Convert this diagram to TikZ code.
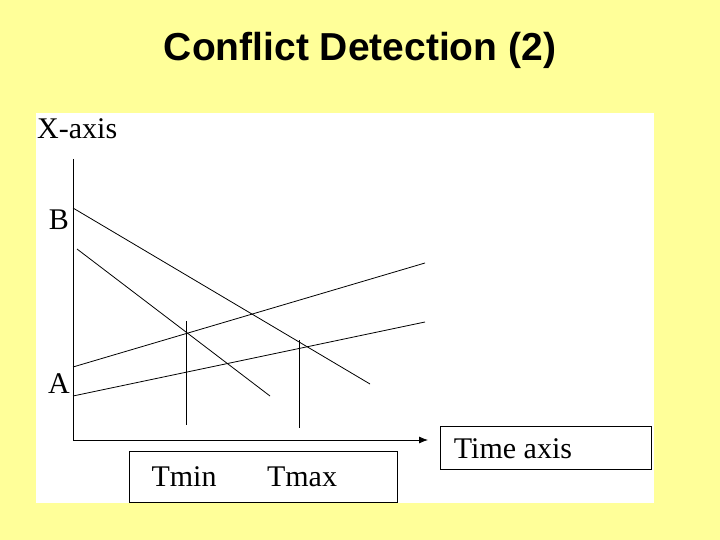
\documentclass[tikz,border=0pt]{standalone}
\usepackage{fontspec}
\setmainfont{Liberation Serif}
\newfontfamily\titlefont{Liberation Sans}
\usetikzlibrary{arrows.meta}
\definecolor{bgyellow}{HTML}{FFFF99}
\begin{document}
\begin{tikzpicture}[x=1pt,y=-1pt,
  lbl/.style={inner sep=0pt,font=\fontsize{30}{30}\selectfont},
  ln/.style={line width=0.8pt},
  box/.style={draw,line width=0.8pt,fill=white}]
\fill[bgyellow] (0,0) rectangle (720,540);
\useasboundingbox (0,0) rectangle (720,540);
\fill[white] (36,113) rectangle (654,503);
\node[inner sep=0pt,font=\titlefont\bfseries\fontsize{39}{39}\selectfont] (title) at (360,50) {Conflict Detection (2)};
\node[lbl,anchor=west] (xl) at (37,129) {X-axis};
\node[lbl] (bl) at (59,220) {B};
\node[lbl] (al) at (59,384) {A};
\coordinate (o) at (73,440);
\coordinate (top) at (73,159);
\coordinate (xe) at (428,440);
\draw[ln] (top) -- (o);
\draw[ln,-{Latex[length=9pt,width=7pt]}] (o) -- (xe);
\coordinate (b1) at (73,208); \coordinate (b2) at (370,384);
\coordinate (c1) at (77,249); \coordinate (c2) at (270,396);
\coordinate (u1) at (73,367); \coordinate (u2) at (425,263);
\coordinate (l1) at (73,396); \coordinate (l2) at (425,322);
\draw[ln] (b1) -- (b2);
\draw[ln] (c1) -- (c2);
\draw[ln] (u1) -- (u2);
\draw[ln] (l1) -- (l2);
\coordinate (m1) at (186,321); \coordinate (m2) at (186,425);
\coordinate (n1) at (299,340); \coordinate (n2) at (299,428);
\draw[ln] (m1) -- (m2);
\draw[ln] (n1) -- (n2);
\node[box,minimum width=211pt,minimum height=43pt] (tbox) at (545.5,447.5) {};
\node[lbl] (tl) at (513,449) {Time axis};
\node[box,minimum width=268pt,minimum height=51pt] (mbox) at (263,476.5) {};
\node[lbl] (tmin) at (184,477) {Tmin};
\node[lbl] (tmax) at (302,477) {Tmax};
\end{tikzpicture}
\end{document}
